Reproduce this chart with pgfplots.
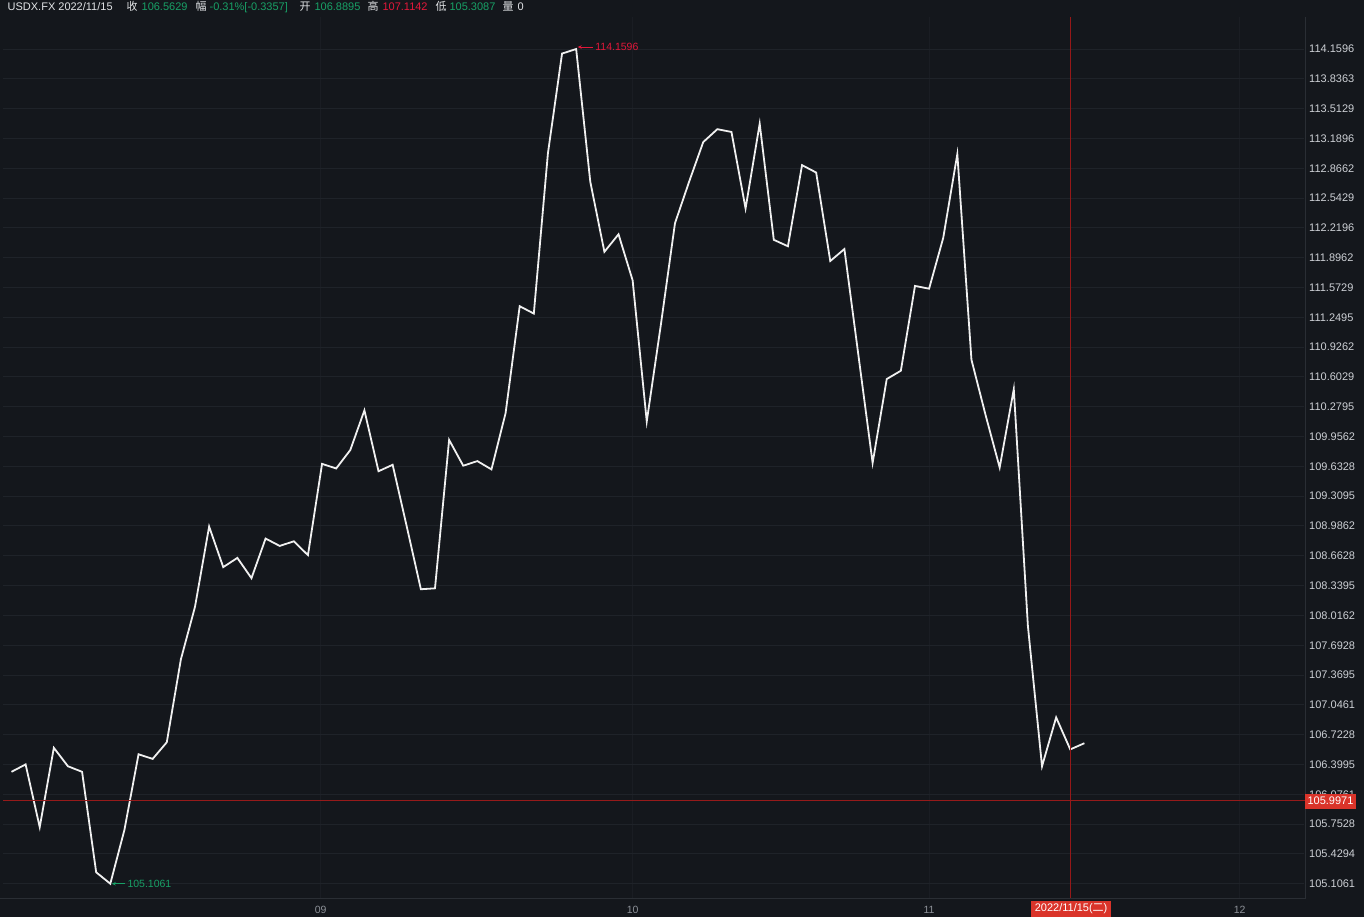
\documentclass[border=0pt]{standalone}
\usepackage{pgfplots}
\pgfplotsset{compat=1.18}
\usepackage{fontspec}
\setmainfont{Liberation Sans}
\newfontfamily\cjk{Noto Sans CJK SC}
\usetikzlibrary{arrows.meta}
\definecolor{bgc}{RGB}{20,23,28}
\definecolor{gridc}{RGB}{31,35,41}
\definecolor{vgridc}{RGB}{26,29,35}
\definecolor{sepc}{RGB}{42,46,52}
\definecolor{linec}{RGB}{240,240,240}
\definecolor{ylab}{RGB}{205,208,213}
\definecolor{xlab}{RGB}{140,144,151}
\definecolor{greent}{RGB}{24,160,102}
\definecolor{redt}{RGB}{226,24,58}
\definecolor{crossc}{RGB}{150,24,24}
\definecolor{boxred}{RGB}{218,52,42}
\definecolor{headw}{RGB}{225,227,230}
\pgfplotstableread{
i v
0 106.32
1 106.40
2 105.72
3 106.58
4 106.38
5 106.32
6 105.23
7 105.1061
8 105.69
9 106.51
10 106.46
11 106.64
12 107.54
13 108.11
14 108.98
15 108.54
16 108.64
17 108.42
18 108.85
19 108.77
20 108.82
21 108.67
22 109.66
23 109.61
24 109.81
25 110.24
26 109.58
27 109.65
28 108.98
29 108.30
30 108.31
31 109.92
32 109.64
33 109.69
34 109.60
35 110.21
36 111.37
37 111.29
38 113.03
39 114.11
40 114.1596
41 112.72
42 111.96
43 112.15
44 111.65
45 110.12
46 111.17
47 112.27
48 112.72
49 113.15
50 113.29
51 113.26
52 112.43
53 113.35
54 112.09
55 112.02
56 112.90
57 112.82
58 111.86
59 111.99
60 110.83
61 109.67
62 110.58
63 110.67
64 111.59
65 111.56
66 112.11
67 113.02
68 110.79
69 110.19
70 109.62
71 110.47
72 107.90
73 106.38
74 106.91
75 106.5629
76 106.63
}\usdx
\begin{document}
\begin{tikzpicture}[x=1pt,y=1pt]
\fill[bgc] (0,0) rectangle (1364,917);
\begin{axis}[
  at={(3pt,18pt)}, anchor=south west,
  scale only axis, width=1301pt, height=882pt,
  xmin=-0.566, xmax=91.56, ymin=104.944, ymax=114.507,
  axis line style={draw=none},
  major tick length=0pt,
  tick style={draw=none},
  ytick={105.1061,105.4294,105.7528,106.0761,106.3995,106.7228,107.0461,107.3695,107.6928,108.0162,108.3395,108.6628,108.9862,109.3095,109.6328,109.9562,110.2795,110.6029,110.9262,111.2495,111.5729,111.8962,112.2196,112.5429,112.8662,113.1896,113.5129,113.8363,114.1596},
  yticklabels={105.1061,105.4294,105.7528,106.0761,106.3995,106.7228,107.0461,107.3695,107.6928,108.0162,108.3395,108.6628,108.9862,109.3095,109.6328,109.9562,110.2795,110.6029,110.9262,111.2495,111.5729,111.8962,112.2196,112.5429,112.8662,113.1896,113.5129,113.8363,114.1596},
  yticklabel pos=right,
  yticklabel style={anchor=west, inner sep=0pt, xshift=5pt, text=ylab, font=\fontsize{11}{13}\selectfont},
  xtick={21.9,44,65,87},
  xticklabels={09,10,11,12},
  xticklabel style={anchor=center, inner sep=0pt, yshift=-11pt, text=xlab, font=\fontsize{10.5}{12}\selectfont},
  ymajorgrids, xmajorgrids,
  y grid style={gridc, line width=1pt},
  x grid style={vgridc, line width=1pt},
  clip=false,
]
\addplot[linec, line width=1.8pt, mark=none] table[x=i, y=v] {\usdx};
\draw[crossc, line width=1.1pt] (axis cs:75,104.944) -- (axis cs:75,114.507);
\draw[redt, line width=0.8pt, -{Stealth[length=4pt,width=3.5pt]}] ([xshift=17pt, yshift=2pt]axis cs:40,114.1596) -- ([xshift=1.5pt, yshift=2pt]axis cs:40,114.1596);
\node[text=redt, anchor=west, inner sep=0pt, font=\fontsize{10.5}{12}\selectfont] at ([xshift=19pt, yshift=2pt]axis cs:40,114.1596) {114.1596};
\draw[greent, line width=0.8pt, -{Stealth[length=4pt,width=3.5pt]}] ([xshift=15pt]axis cs:7,105.1061) -- ([xshift=1.5pt]axis cs:7,105.1061);
\node[text=greent, anchor=west, inner sep=0pt, font=\fontsize{10.5}{12}\selectfont] at ([xshift=17pt]axis cs:7,105.1061) {105.1061};
\end{axis}
\fill[color={rgb,255:red,150;green,26;blue,26}] (3,115.3) rectangle (1305,116.7);
\draw[sepc, line width=1pt] (1305,18) -- (1305,900);
\draw[sepc, line width=1pt] (0,18) -- (1305,18);
\node[fill=boxred, text=white, minimum width=51pt, minimum height=15pt, inner sep=0pt, font=\fontsize{11}{13}\selectfont] at (1330.5,115.5) {105.9971};
\node[fill=boxred, text=white, minimum width=80pt, minimum height=16pt, inner sep=0pt, font=\fontsize{11}{13}\selectfont] at (1071,8) {2022/11/15({\cjk 二})};
\begin{scope}[every node/.style={anchor=base west, inner sep=0pt, font=\fontsize{11}{13}\selectfont}]
\node[text=headw] at (7,906) {USDX.FX 2022/11/15};
\node[text=headw] at (126,906) {\cjk 收};
\node[text=greent] at (141,906) {106.5629};
\node[text=headw] at (195,906) {\cjk 幅};
\node[text=greent] at (209,906) {-0.31\%[-0.3357]};
\node[text=headw] at (299,906) {\cjk 开};
\node[text=greent] at (314,906) {106.8895};
\node[text=headw] at (367,906) {\cjk 高};
\node[text=redt] at (382,906) {107.1142};
\node[text=headw] at (435,906) {\cjk 低};
\node[text=greent] at (449,906) {105.3087};
\node[text=headw] at (502,906) {\cjk 量};
\node[text=headw] at (517,906) {0};
\end{scope}
\end{tikzpicture}
\end{document}
